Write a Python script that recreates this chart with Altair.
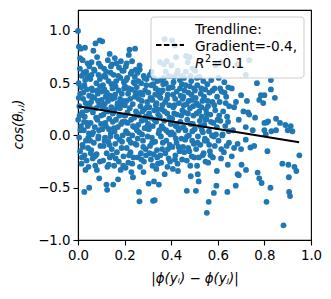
import altair as alt
import pandas as pd

# ---- scatter data (bands of x) ----
xs = [
 0.000,0.004,0.012,0.030,0.020,0.041,0.008,0.035,0.016,0.046,0.003,0.027,0.038,0.010,0.048,0.022,0.033,0.006,0.044,0.018,0.029,0.001,0.039,0.013,0.025,0.047,0.005,0.034,0.019,0.043,0.009,0.028,0.037,0.015,0.045,0.027,0.048,0.024,0.040,0.011,
 0.075,0.093,0.066,0.082,0.058,0.097,0.071,0.088,0.053,0.079,0.095,0.062,0.085,0.070,0.056,0.091,0.077,0.064,0.099,0.083,0.054,0.072,0.090,0.060,0.087,0.068,0.096,0.057,0.080,0.063,0.094,0.074,0.091,0.059,0.086,0.052,
 0.104,0.136,0.128,0.146,0.112,0.140,0.118,0.131,0.107,0.148,0.124,0.138,0.102,0.115,0.143,0.127,0.109,0.134,0.149,0.120,0.105,0.141,0.116,0.130,0.110,0.145,0.123,0.137,0.108,0.132,0.122,0.125,0.147,0.113,0.139,0.119,
 0.158,0.165,0.176,0.190,0.153,0.182,0.197,0.161,0.174,0.188,0.156,0.193,0.169,0.180,0.151,0.199,0.163,0.185,0.171,0.157,0.192,0.178,0.160,0.187,0.167,0.195,0.175,0.155,0.183,0.151,0.172,0.198,0.164,0.186,
 0.221,0.245,0.218,0.232,0.205,0.248,0.226,0.211,0.239,0.202,0.230,0.215,0.244,0.208,0.235,0.222,0.249,0.203,0.228,0.213,0.241,0.206,0.233,0.219,0.246,0.209,0.225,0.238,0.216,0.204,0.229,0.236,0.243,0.212,
 0.265,0.282,0.256,0.294,0.271,0.252,0.288,0.277,0.260,0.297,0.268,0.284,0.254,0.291,0.273,0.258,0.286,0.263,0.299,0.279,0.251,0.290,0.270,0.257,0.283,0.266,0.262,0.264,0.293,0.275,0.255,0.281,
 0.308,0.324,0.341,0.315,0.333,0.302,0.348,0.319,0.337,0.306,0.327,0.344,0.312,0.335,0.321,0.304,0.346,0.317,0.331,0.309,0.339,0.325,0.313,0.343,0.303,0.322,0.326,0.329,0.347,0.336,
 0.372,0.381,0.352,0.369,0.390,0.358,0.377,0.396,0.363,0.385,0.354,0.374,0.392,0.360,0.383,0.351,0.370,0.398,0.365,0.387,0.356,0.379,0.394,0.361,0.375,0.389,0.357,0.372,0.384,0.366,
 0.403,0.415,0.421,0.401,0.428,0.412,0.437,0.446,0.406,0.424,0.441,0.417,0.433,0.409,0.448,0.426,0.404,0.439,0.419,0.431,0.411,0.444,0.423,0.405,0.436,0.418,0.447,0.427,0.407,0.429,
 0.464,0.479,0.471,0.492,0.455,0.486,0.462,0.498,0.474,0.452,0.489,0.466,0.481,0.458,0.495,0.469,0.484,0.453,0.491,0.476,0.460,0.497,0.473,0.456,0.488,0.467,0.482,0.467,0.484,0.494,
 0.503,0.521,0.538,0.512,0.546,0.527,0.505,0.534,0.517,0.549,0.509,0.531,0.523,0.542,0.501,0.536,0.515,0.544,0.525,0.507,0.539,0.519,0.547,0.511,0.506,0.518,0.514,0.532,
 0.590,0.572,0.555,0.586,0.564,0.597,0.577,0.558,0.589,0.568,0.551,0.581,0.596,0.562,0.575,0.553,0.587,0.566,0.579,0.559,0.561,0.553,0.583,0.594,0.596,
 0.612,0.604,0.628,0.645,0.617,0.636,0.608,0.649,0.623,0.640,0.611,0.632,0.647,0.619,0.603,0.638,0.626,0.614,0.643,0.641,
 0.685,0.720,0.735,0.768,0.828,0.828,0.785,0.800,0.845,0.778,0.795,0.700,0.725,0.710,0.730,0.735,0.678,0.816,0.810,0.800,0.867,0.890,0.913,0.850,0.760,0.660,0.670,0.690,0.750,0.720,0.665,
 0.882,0.809,0.826,0.910,0.906,0.788,0.778,0.771,0.905,0.937,0.929,0.903,0.877,0.950,0.677,0.721,0.702,0.685,0.690,0.813,0.740,0.756,0.700,0.720,0.685,0.800,0.830,0.850,0.900,0.920,0.806,0.660,0.670,
]
ys = [
 1.00,0.85,0.83,0.84,0.72,0.69,0.64,0.61,0.57,0.55,0.50,0.48,0.44,0.40,0.38,0.35,0.31,0.28,0.25,0.22,0.18,0.15,0.12,0.09,0.05,0.02,-0.02,-0.05,-0.09,-0.12,-0.15,-0.19,-0.24,-0.27,-0.30,-0.54,-0.50,0.60,0.30,0.05,
 0.88,0.91,0.81,0.75,0.70,0.66,0.62,0.58,0.54,0.50,0.47,0.43,0.40,0.36,0.32,0.29,0.26,0.22,0.19,0.15,0.12,0.08,0.05,0.01,-0.03,-0.07,-0.10,-0.14,-0.18,-0.22,-0.25,-0.29,-0.41,0.45,0.33,-0.05,
 0.90,0.78,0.72,0.68,0.64,0.60,0.56,0.52,0.48,0.45,0.41,0.38,0.34,0.30,0.27,0.23,0.20,0.16,0.13,0.09,0.06,0.02,-0.02,-0.06,-0.10,-0.13,-0.17,-0.21,-0.24,-0.28,-0.47,-0.52,0.35,0.44,-0.01,0.25,
 0.74,0.69,0.65,0.62,0.58,0.55,0.51,0.47,0.43,0.40,0.36,0.33,0.29,0.26,0.22,0.19,0.15,0.11,0.08,0.04,0.00,-0.04,-0.08,-0.12,-0.16,-0.20,-0.25,-0.29,-0.33,-0.47,-0.42,0.45,0.52,0.30,
 0.82,0.83,0.77,0.71,0.66,0.63,0.59,0.55,0.51,0.47,0.44,0.40,0.37,0.33,0.30,0.26,0.23,0.19,0.15,0.12,0.08,0.04,0.00,-0.04,-0.08,-0.12,-0.16,-0.21,-0.26,-0.31,-0.35,-0.40,0.50,0.22,
 0.63,0.57,0.60,0.54,0.50,0.46,0.43,0.39,0.35,0.32,0.28,0.25,0.21,0.18,0.14,0.10,0.07,0.03,-0.01,-0.05,-0.09,-0.13,-0.17,-0.21,-0.25,-0.30,-0.54,-0.63,0.48,0.01,0.40,-0.35,
 0.58,0.55,0.52,0.48,0.45,0.41,0.38,0.34,0.31,0.27,0.24,0.20,0.17,0.13,0.09,0.06,0.02,-0.02,-0.06,-0.10,-0.14,-0.18,-0.23,-0.27,-0.46,-0.625,-0.44,-0.62,-0.47,-0.32,
 0.92,0.71,0.70,0.68,0.57,0.53,0.50,0.46,0.43,0.39,0.36,0.32,0.29,0.25,0.21,0.18,0.14,0.11,0.07,0.03,-0.01,-0.05,-0.09,-0.13,-0.17,-0.22,-0.26,-0.37,-0.30,0.49,
 0.91,0.86,0.75,0.67,0.62,0.56,0.53,0.49,0.46,0.42,0.38,0.35,0.31,0.27,0.24,0.20,0.16,0.13,0.09,0.05,0.01,-0.03,-0.07,-0.11,-0.15,-0.19,-0.23,-0.27,-0.32,-0.34,
 0.76,0.75,0.70,0.64,0.55,0.52,0.48,0.45,0.41,0.37,0.34,0.30,0.26,0.22,0.19,0.15,0.11,0.08,0.04,0.00,-0.04,-0.08,-0.12,-0.16,-0.20,-0.24,-0.29,-0.53,-0.39,0.28,
 0.62,0.56,0.52,0.48,0.44,0.40,0.36,0.33,0.29,0.25,0.21,0.18,0.14,0.10,0.06,0.03,-0.01,-0.05,-0.09,-0.13,-0.17,-0.21,-0.25,-0.29,-0.53,-0.44,-0.37,0.05,
 0.67,0.53,0.49,0.45,0.41,0.37,0.32,0.28,0.24,0.20,0.16,0.12,0.08,0.04,0.00,-0.05,-0.10,-0.15,-0.21,-0.26,-0.635,-0.74,-0.55,-0.48,-0.34,
 0.70,0.55,0.51,0.46,0.42,0.37,0.32,0.28,0.23,0.18,0.14,0.09,0.04,0.00,-0.05,-0.10,-0.16,-0.22,-0.28,-0.54,
 0.68,0.58,0.72,0.50,0.53,0.44,0.385,0.385,0.36,0.34,0.31,0.385,0.33,0.23,0.22,0.20,0.32,0.135,0.125,0.12,0.12,0.10,0.09,0.16,0.17,0.45,0.27,0.15,0.05,0.08,0.05,
 -0.86,-0.635,-0.50,-0.58,-0.54,-0.455,-0.41,-0.355,-0.40,-0.34,-0.30,-0.28,-0.27,-0.19,-0.48,-0.33,-0.28,-0.37,-0.38,-0.15,-0.115,-0.10,-0.13,-0.04,-0.08,0.05,0.04,0.05,0.05,0.04,0.01,-0.20,-0.12,
]

# extra points filling the dense core
xs2 = [
 0.014,0.031,0.007,0.042,0.021,0.036,0.003,0.049,0.017,0.026,0.044,0.009,0.032,0.023,0.039,
 0.061,0.078,0.094,0.055,0.088,0.069,0.083,0.051,0.097,0.073,0.065,0.089,0.058,0.081,0.099,
 0.111,0.129,0.144,0.117,0.135,0.103,0.121,0.149,0.126,0.114,0.141,0.133,0.106,0.147,0.119,
 0.159,0.173,0.191,0.154,0.181,0.166,0.196,0.177,0.162,0.189,0.152,0.184,0.170,0.194,0.158,
 0.207,0.224,0.241,0.214,0.231,0.247,0.201,0.219,0.236,0.209,0.227,0.244,0.217,0.233,0.203,
 0.259,0.274,0.289,0.253,0.267,0.296,0.280,0.261,0.285,0.272,0.298,0.256,0.277,0.292,0.264,
 0.311,0.328,0.345,0.305,0.318,0.334,0.349,0.323,0.307,0.340,0.316,0.331,0.301,0.342,0.320,
 0.355,0.371,0.388,0.359,0.376,0.393,0.364,0.382,0.353,0.397,0.368,0.386,0.362,0.378,0.395,
 0.408,0.422,0.438,0.414,0.443,0.402,0.425,0.432,0.416,0.449,0.410,0.435,0.420,0.445,0.413,
 0.457,0.472,0.487,0.461,0.478,0.493,0.454,0.483,0.468,0.499,0.463,0.475,0.490,0.451,0.480,
 0.508,0.524,0.541,0.513,0.529,0.548,0.502,0.535,0.520,0.545,0.510,0.530,
 0.557,0.571,0.585,0.563,0.592,0.578,0.552,0.569,0.599,0.583,
 0.606,0.621,0.634,0.648,0.615,0.629,0.644,0.610,
]
ys2 = [
 0.46,0.53,0.19,0.09,-0.11,0.24,0.36,0.66,-0.21,0.13,-0.02,0.74,-0.33,0.41,0.57,
 0.37,0.17,0.54,-0.17,-0.01,0.63,0.43,0.27,0.31,-0.20,0.03,0.69,0.58,-0.33,0.11,
 0.57,0.33,0.49,0.12,-0.09,0.42,0.61,0.21,-0.30,-0.05,0.66,0.06,0.27,-0.19,0.37,
 0.39,0.57,0.13,0.07,0.35,-0.01,0.62,0.19,-0.22,-0.06,0.49,0.71,0.31,-0.29,0.25,
 0.53,0.35,0.17,0.02,0.61,0.41,0.29,-0.19,0.09,0.69,-0.07,0.56,0.45,-0.27,0.13,
 0.52,0.33,0.15,0.05,0.41,0.27,-0.11,0.19,0.55,-0.23,0.09,-0.03,0.23,-0.19,0.67,
 0.36,0.15,0.43,0.21,-0.07,0.29,0.05,0.49,-0.17,-0.21,0.61,0.39,0.11,0.25,-0.29,
 0.41,0.23,0.45,0.09,0.61,0.17,-0.07,0.35,-0.19,0.01,0.55,-0.13,0.29,0.05,-0.25,
 0.39,0.11,0.45,0.29,0.19,0.03,0.59,-0.11,-0.23,0.35,0.51,0.07,-0.03,0.57,0.21,
 0.43,0.21,0.39,0.05,-0.15,0.11,0.29,0.57,-0.01,-0.21,0.61,0.33,-0.05,-0.11,0.47,
 0.31,0.09,0.37,-0.07,0.45,0.15,0.43,-0.19,0.23,-0.03,0.55,0.27,
 0.33,0.13,0.29,-0.09,0.01,0.43,0.21,-0.19,0.15,-0.01,
 0.19,0.01,0.31,-0.07,-0.13,0.41,0.13,0.45,
]

# ---- trendline (endpoints) ----
trend_x = [0.0, 0.949]
trend_y = [0.28, -0.065]

# ---- legend text ----
legend_lines = ["Trendline:", "Gradient=-0.4,"]
legend_r2 = "=0.1"

x_ticks = [0.0, 0.2, 0.4, 0.6, 0.8, 1.0]
y_ticks = [-1.0, -0.5, 0.0, 0.5, 1.0]

W, H = 233, 230
FONT = "DejaVu Sans"

pts = pd.DataFrame({"x": xs + xs2, "y": ys + ys2})
trend = pd.DataFrame({"x": trend_x, "y": trend_y})
one = pd.DataFrame({"k": [0]})

xscale = alt.Scale(domain=[0, 1], nice=False, zero=False, padding=0)
yscale = alt.Scale(domain=[-1.0, 1.2], nice=False, zero=False, padding=0)

xaxis = alt.Axis(values=x_ticks, format=".1f", grid=False, tickSize=5, labelPadding=3,
                 labelFlush=False,
                 title="|ϕ(yᵢ) − ϕ(yⱼ)|", titleFontStyle="italic", titleFontWeight="normal",
                 titleX=W / 2, titleY=38, titleBaseline="middle", titleAlign="center")
yaxis = alt.Axis(values=y_ticks, format=".1f", grid=False, tickSize=5, labelPadding=3,
                 labelFlush=False,
                 title="cos(θᵢ,ⱼ)", titleFontStyle="italic", titleFontWeight="normal",
                 titleX=-60, titleY=114, titleAngle=270, titleBaseline="middle", titleAlign="center")

scatter = alt.Chart(pts).mark_circle(size=34, color="#1f77b4", opacity=1).encode(
    x=alt.X("x:Q", scale=xscale, axis=xaxis),
    y=alt.Y("y:Q", scale=yscale, axis=yaxis),
)

line = alt.Chart(trend).mark_line(color="black", strokeWidth=2).encode(
    x=alt.X("x:Q", scale=xscale),
    y=alt.Y("y:Q", scale=yscale),
)

box = alt.Chart(one).mark_rect(fill="white", fillOpacity=0.8, stroke="#cccccc",
                               strokeWidth=1, cornerRadius=3).encode(
    x=alt.value(73), x2=alt.value(226), y=alt.value(7), y2=alt.value(68))

handle = alt.Chart(one).mark_rule(color="black", strokeWidth=1.8, strokeDash=[5.5, 2.4]).encode(
    x=alt.value(78), x2=alt.value(106), y=alt.value(35))

t1 = alt.Chart(one).mark_text(text=legend_lines[0], font=FONT, fontSize=13.7, align="left",
                              baseline="alphabetic", color="black").encode(x=alt.value(117), y=alt.value(24))
t2 = alt.Chart(one).mark_text(text=legend_lines[1], font=FONT, fontSize=13.7, align="left",
                              baseline="alphabetic", color="black").encode(x=alt.value(117), y=alt.value(41))
t3a = alt.Chart(one).mark_text(text="R", font=FONT, fontSize=13.7, fontStyle="italic", align="left",
                               baseline="alphabetic", color="black").encode(x=alt.value(117), y=alt.value(58))
t3b = alt.Chart(one).mark_text(text="2", font=FONT, fontSize=9.6, align="left",
                               baseline="alphabetic", color="black").encode(x=alt.value(127), y=alt.value(52))
t3c = alt.Chart(one).mark_text(text=legend_r2, font=FONT, fontSize=13.7, align="left",
                               baseline="alphabetic", color="black").encode(x=alt.value(133), y=alt.value(58))

chart = alt.layer(scatter, line, box, handle, t1, t2, t3a, t3b, t3c).properties(
    width=W, height=H,
    autosize=alt.AutoSizeParams(type="none"),
    padding={"left": 70, "top": 2, "right": 12, "bottom": 51},
).configure_view(stroke="black", strokeWidth=1.1).configure_axis(
    domainColor="black", domainWidth=1.1, tickColor="black", tickWidth=1.1,
    labelColor="black", titleColor="black", labelFont=FONT, titleFont=FONT,
    labelFontSize=13.3, titleFontSize=13.3,
)

chart.save("out.html", embed_options={"renderer": "svg", "actions": False})
